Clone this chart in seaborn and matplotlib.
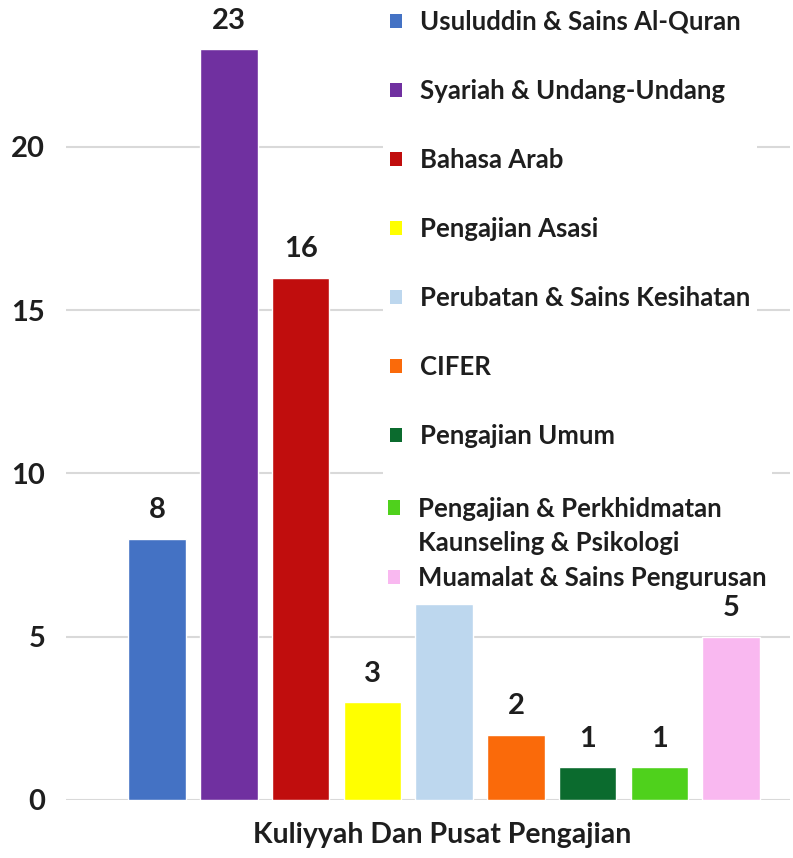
import seaborn as sns
import matplotlib.pyplot as plt
import matplotlib.patches as mpatches

# data
categories = ["Usuluddin & Sains Al-Quran", "Syariah & Undang-Undang", "Bahasa Arab",
              "Pengajian Asasi", "Perubatan & Sains Kesihatan", "CIFER", "Pengajian Umum",
              "Pengajian & Perkhidmatan\nKaunseling & Psikologi", "Muamalat & Sains Pengurusan"]
values = [8, 23, 16, 3, 6, 2, 1, 1, 5]
# the label of the 6 bar is covered by the legend in the original
value_labels = ["8", "23", "16", "3", "", "2", "1", "1", "5"]
colors = ["#4472C4", "#7030A0", "#C00D0D", "#FFFF00", "#BDD7EE",
          "#FA6A0A", "#0B6B2E", "#4FD11C", "#F9B8F0"]
y_ticks = [0, 5, 10, 15, 20]
x_title = "Kuliyyah Dan Pusat Pengajian"

sns.set_style("white")
plt.rcParams['font.family'] = ['Lato', 'DejaVu Sans']
text_color = "#1e1e1e"

fig = plt.figure(figsize=(7.93, 8.58), dpi=100)
ax = fig.add_axes([66 / 793, 58 / 858, (790 - 66) / 793, 800 / 858])

# bars
sns.barplot(x=list(range(len(values))), y=values, hue=list(range(len(values))),
            palette=colors, legend=False, width=0.8, saturation=1, ax=ax)

ax.set_xlim(-1.27, 8.82)
ax.set_ylim(0, 24.5)
ax.set_yticks(y_ticks)
ax.set_xticks([])
ax.yaxis.grid(True, color="#D9D9D9", linewidth=1.5)
ax.set_axisbelow(True)
for s in ax.spines.values():
    s.set_visible(False)
ax.tick_params(axis='y', length=0, pad=15, labelsize=21, labelcolor=text_color)
for t in ax.get_yticklabels():
    t.set_fontweight('bold')

# value labels
for cont, lab in zip(ax.containers, value_labels):
    ax.bar_label(cont, labels=[lab], padding=11, fontsize=21, fontweight='bold', color=text_color)

# x label
ax.set_xlabel(x_title, fontsize=20.5, fontweight='bold', color=text_color)
ax.xaxis.set_label_coords(0.519, -0.028)

# legend, drawn in two parts to get the uneven spacing of the original
handles = [mpatches.Patch(facecolor=c, edgecolor='none') for c in colors]
blank = mpatches.Patch(facecolor='none', edgecolor='none')
leg_kw = dict(loc='upper left', bbox_transform=fig.transFigure, borderaxespad=0,
              handlelength=0.47, handleheight=0.47, handletextpad=0.7,
              prop={'family': 'Lato', 'weight': 'bold', 'size': 18.5},
              frameon=True, fancybox=False, framealpha=1,
              facecolor='white', edgecolor='none', labelcolor=text_color)

leg1 = ax.legend(handles[:7], categories[:7], bbox_to_anchor=(383 / 793, 1 - 3 / 858),
                 borderpad=0.27, labelspacing=1.75, **leg_kw)
leg1.set_zorder(5)
ax.add_artist(leg1)

two_line = categories[7].split("\n")
leg2 = ax.legend([blank, handles[7], blank, handles[8]],
                 [" ", two_line[0], two_line[1], categories[8]],
                 bbox_to_anchor=(383 / 793, 1 - 457 / 858),
                 borderpad=0.2, labelspacing=0.41, **leg_kw)
leg2.set_zorder(5)

fig.savefig("out.png", dpi=100)
